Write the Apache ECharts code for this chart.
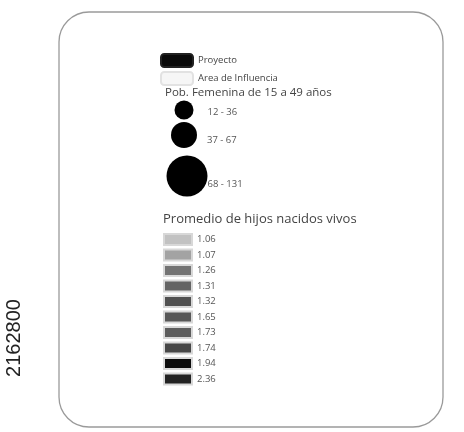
<!DOCTYPE html>
<html>
<head>
<meta charset="utf-8">
<script src="https://cdn.jsdelivr.net/npm/echarts@6/dist/echarts.min.js"></script>
<style>
  html, body { margin: 0; padding: 0; background: #fff; }
  #chart { width: 464px; height: 432px; }
</style>
</head>
<body>
<div id="chart"></div>
<script>
// capas del mapa
const capas = ["Proyecto", "Area de Influencia"];
// Pob. Femenina de 15 a 49 años (rangos)
const pobRangos = ["12 - 36", "37 - 67", "68 - 131"];
// Promedio de hijos nacidos vivos (clases)
const hijosClases = ["1.06", "1.07", "1.26", "1.31", "1.32", "1.65", "1.73", "1.74", "1.94", "2.36"];
const hijosColores = ["#c2c2c2", "#a3a3a3", "#737373", "#646464", "#515151", "#575757", "#5d5d5d", "#474747", "#0c0c0c", "#232323"];
const coordenada = "2162800";

const chart = echarts.init(document.getElementById("chart"));
const FONT = "Open Sans";

// series vacias: solo alimentan las leyendas
const series = [];
capas.forEach((n, i) => {
  series.push({
    name: n, type: "scatter", data: [],
    itemStyle: i === 0
      ? { color: "#0a0a0a", borderColor: "#222", borderWidth: 1, opacity: 1 }
      : { color: "#f6f6f6", borderColor: "#e2e2e2", borderWidth: 1, opacity: 1 }
  });
});
pobRangos.forEach((n) => {
  series.push({ name: n, type: "scatter", data: [], itemStyle: { color: "#000", opacity: 1 } });
});
hijosClases.forEach((n, i) => {
  series.push({
    name: n, type: "scatter", data: [],
    itemStyle: { color: hijosColores[i], borderColor: "#d8d8d8", borderWidth: 0.6, opacity: 1 }
  });
});

const labelStyle = { fontFamily: FONT, fontSize: 9.5, color: "#555" };

// leyendas de circulos (tamaño distinto cada una)
const circulos = [
  { left: 174.5, top: 100.5, d: 19, pad: [4, 0, 0, 9] },
  { left: 171, top: 122, d: 26, pad: [10, 0, 0, 5] },
  { left: 166.5, top: 155.5, d: 41, pad: [16, 0, 0, -5] }
];

const legends = [
  {
    orient: "vertical", left: 160, top: 53, itemWidth: 32, itemHeight: 13, itemGap: 3,
    icon: "roundRect", data: capas, selectedMode: false, padding: 0,
    textStyle: { fontFamily: FONT, fontSize: 9.5, color: "#444" }
  },
  ...circulos.map((c, i) => ({
    orient: "vertical", left: c.left, top: c.top, itemWidth: c.d, itemHeight: c.d,
    icon: "circle", data: [pobRangos[i]], selectedMode: false, padding: 0,
    formatter: (name) => "{r|" + name + "}",
    textStyle: Object.assign({}, labelStyle, {
      rich: { r: Object.assign({}, labelStyle, { padding: c.pad }) }
    })
  })),
  {
    orient: "vertical", left: 163, top: 233, itemWidth: 28, itemHeight: 11, itemGap: 2.5,
    icon: "rect", data: hijosClases, selectedMode: false, padding: 0,
    textStyle: labelStyle
  }
];

const option = {
  backgroundColor: "#fff",
  animation: false,
  grid: { left: 0, top: 0, width: 1, height: 1, show: false },
  xAxis: { type: "value", show: false },
  yAxis: { type: "value", show: false },
  title: [
    {
      text: "Pob. Femenina de 15 a 49 años", left: 165, top: 87, padding: 0,
      textStyle: { fontFamily: FONT, fontSize: 11.5, fontWeight: "normal", color: "#444" }
    },
    {
      text: "Promedio de hijos nacidos vivos", left: 163, top: 213, padding: 0,
      textStyle: { fontFamily: FONT, fontSize: 13, fontWeight: "normal", color: "#444" }
    }
  ],
  legend: legends,
  graphic: [
    {
      type: "rect", shape: { x: 59, y: 12, width: 384, height: 415, r: 30 },
      style: { fill: "none", stroke: "#9a9a9a", lineWidth: 1.3 }, silent: true
    },
    {
      type: "text", x: 14, y: 338, rotation: Math.PI / 2,
      style: {
        text: coordenada, fontFamily: "Liberation Sans", fontSize: 20,
        fill: "#222", align: "center", verticalAlign: "middle"
      }
    }
  ],
  series: series
};

chart.setOption(option);
</script>
</body>
</html>
